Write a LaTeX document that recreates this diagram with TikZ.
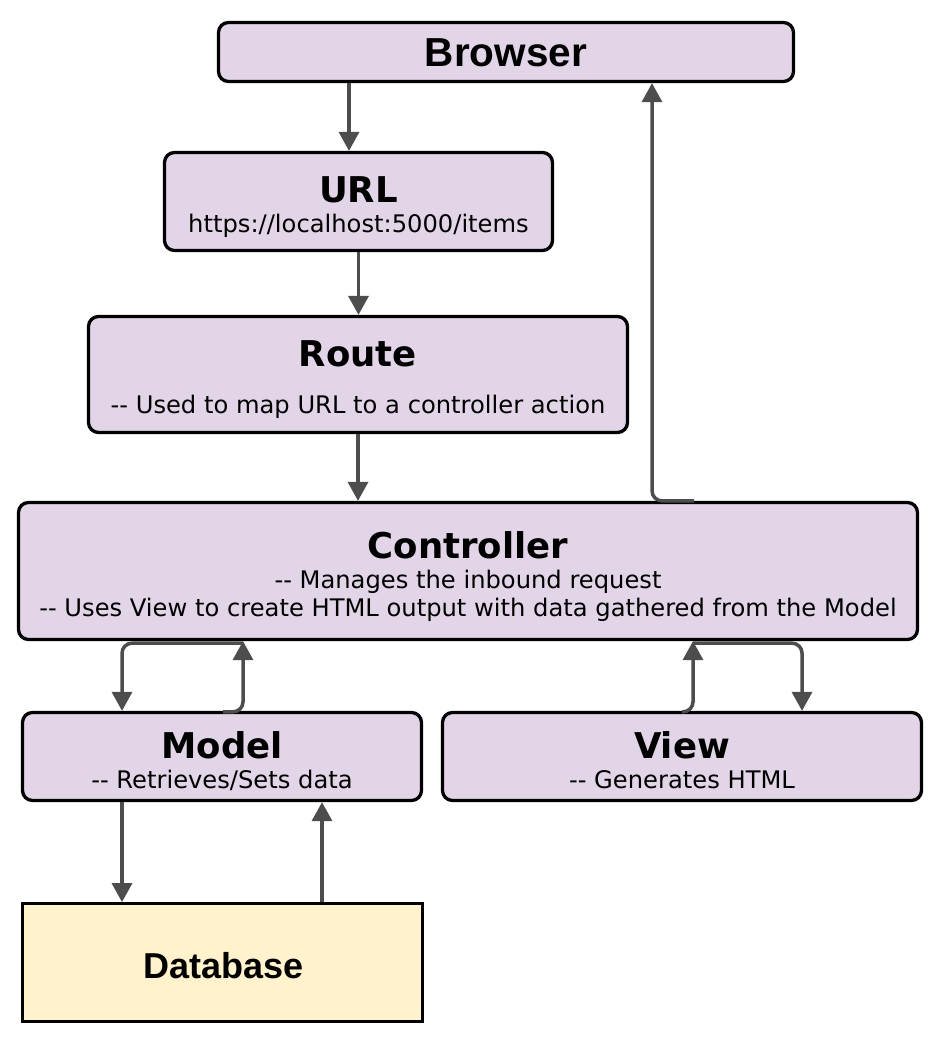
\documentclass[tikz,border=0pt]{standalone}
\usepackage{fontspec}
\usetikzlibrary{arrows.meta, positioning}
\newfontfamily\verdfont[Ligatures=TeXOff]{DejaVu Sans}
\newfontfamily\arialfont{Liberation Sans}
\definecolor{boxfill}{HTML}{E1D5E7}
\definecolor{dbfill}{HTML}{FFF2CC}
\definecolor{linegray}{HTML}{4D4D4D}

\begin{document}
\begin{tikzpicture}[
    x=1pt, y=-1pt,
    box/.style={draw=black, line width=3.3pt, rounded corners=10pt, fill=boxfill, inner sep=0pt},
    dbbox/.style={draw=black, line width=2.8pt, fill=dbfill, inner sep=0pt},
    ttl/.style={anchor=base, inner sep=0pt, font=\verdfont\bfseries\fontsize{35.5}{42}\selectfont},
    subtxt/.style={anchor=base, inner sep=0pt, font=\verdfont\fontsize{24.2}{29}\selectfont},
    bigsans/.style={anchor=base, inner sep=0pt, font=\arialfont\bfseries\fontsize{36}{44}\selectfont},
    flow/.style={draw=linegray, line width=3.5pt, rounded corners=10pt, -{Triangle[length=19pt, width=20pt]}}
]
    \useasboundingbox (0,0) rectangle (942,1042);

    % --- Boxes ---
    \node[box, minimum width=575pt, minimum height=59pt] (browser) at (506,52) {};
    \node[box, minimum width=388pt, minimum height=98pt] (url) at (358.5,201.5) {};
    \node[box, minimum width=539pt, minimum height=116pt] (route) at (358,374.5) {};
    \node[box, minimum width=899pt, minimum height=137pt] (ctrl) at (468,571) {};
    \node[box, minimum width=399pt, minimum height=88pt] (model) at (222,756.5) {};
    \node[box, minimum width=479pt, minimum height=88pt] (view) at (682,756.5) {};
    \node[dbbox, minimum width=400pt, minimum height=118pt] (db) at (222.5,962.5) {};

    % --- Texts ---
    \node[bigsans, font=\arialfont\bfseries\fontsize{40.5}{48}\selectfont] (browsertxt) at (506,66) {Browser};
    \node[ttl] (urlttl) at (358.5,202) {URL};
    \node[subtxt] (urlsub) at (358.5,232) {https://localhost:5000/items};
    \node[ttl] (routettl) at (358,366) {Route};
    \node[subtxt] (routesub) at (358,413) {-- Used to map URL to a controller action};
    \node[ttl] (ctrlttl) at (468,558) {Controller};
    \node[subtxt] (ctrlsuba) at (468,588) {-- Manages the inbound request};
    \node[subtxt] (ctrlsubb) at (468,616) {-- Uses View to create HTML output with data gathered from the Model};
    \node[ttl] (modelttl) at (222,758) {Model};
    \node[subtxt] (modelsub) at (222,788) {-- Retrieves/Sets data};
    \node[ttl] (viewttl) at (682,758) {View};
    \node[subtxt] (viewsub) at (682,788) {-- Generates HTML};
    \node[bigsans] (dbtxt) at (224,978) {Database};

    % --- Request path ---
    \draw[flow] ([xshift=-157pt]browser.south) -- ([xshift=-9.5pt]url.north);
    \draw[flow] (url.south) -- (url.south |- route.north);
    \draw[flow] (route.south) -- (route.south |- ctrl.north);
    \draw[flow] ([xshift=226pt]ctrl.north) -| ([xshift=146pt]browser.south);

    % --- Controller and Model / View ---
    \draw[flow] ([xshift=-225pt,yshift=-2pt]ctrl.south) -| ([xshift=-100pt]model.north);
    \draw[flow] ([xshift=1pt,yshift=-1pt]model.north) -| ([xshift=-225pt]ctrl.south);
    \draw[flow] ([yshift=-1pt]view.north) -| ([xshift=225pt]ctrl.south);
    \draw[flow] ([xshift=225pt,yshift=-2pt]ctrl.south) -| ([xshift=120pt]view.north);

    % --- Model and Database ---
    \draw[flow] ([xshift=-100pt]model.south) -- ([xshift=-100.5pt]db.north);
    \draw[flow] ([xshift=99.5pt]db.north) -- ([xshift=100pt]model.south);

\end{tikzpicture}
\end{document}
